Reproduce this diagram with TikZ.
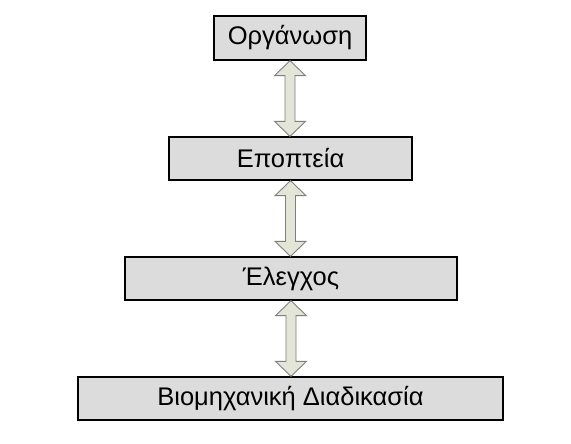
\documentclass[tikz,border=0pt]{standalone}
\usepackage{fontspec}
\setmainfont{Liberation Sans}
\usetikzlibrary{calc}
\definecolor{boxgray}{HTML}{DCDCDC}
\definecolor{arrfill}{HTML}{E3E6D6}
\definecolor{arrline}{HTML}{7F7F7F}
\tikzset{
  box/.style={draw=black, line width=1.3pt, fill=boxgray, inner sep=0pt,
    font=\fontsize{25.5}{28}\selectfont, anchor=center},
  arr/.style={draw=arrline, line width=0.9pt, fill=arrfill, line join=miter},
}
\newcommand\dblarrow[2]{%
  \draw[arr] let \p1=(#1.south), \p2=(#2.north) in
    (\x1,\y1) -- (\x1+15.5pt,\y1-15pt) -- (\x1+5pt,\y1-15pt) -- (\x1+5pt,\y2+15pt)
    -- (\x1+15.5pt,\y2+15pt) -- (\x1,\y2) -- (\x1-15.5pt,\y2+15pt) -- (\x1-5pt,\y2+15pt)
    -- (\x1-5pt,\y1-15pt) -- (\x1-15.5pt,\y1-15pt) -- cycle;}
\begin{document}
\begin{tikzpicture}[x=1pt,y=-1pt]
\fill[white] (0,0) rectangle (571,444);
\useasboundingbox (0,0) rectangle (571,444);
\node[box, minimum width=152pt, minimum height=44pt] (org) at (290,38) {Οργάνωση};
\node[box, minimum width=243pt, minimum height=43pt] (epo) at (290.5,158.5) {Εποπτεία};
\node[box, minimum width=332pt, minimum height=43pt] (ele) at (291,278.5) {Έλεγχος};
\node[box, minimum width=425pt, minimum height=43pt] (bio) at (290.5,398.5) {Βιομηχανική Διαδικασία};
\dblarrow{org}{epo}
\dblarrow{epo}{ele}
\dblarrow{ele}{bio}
\end{tikzpicture}
\end{document}
